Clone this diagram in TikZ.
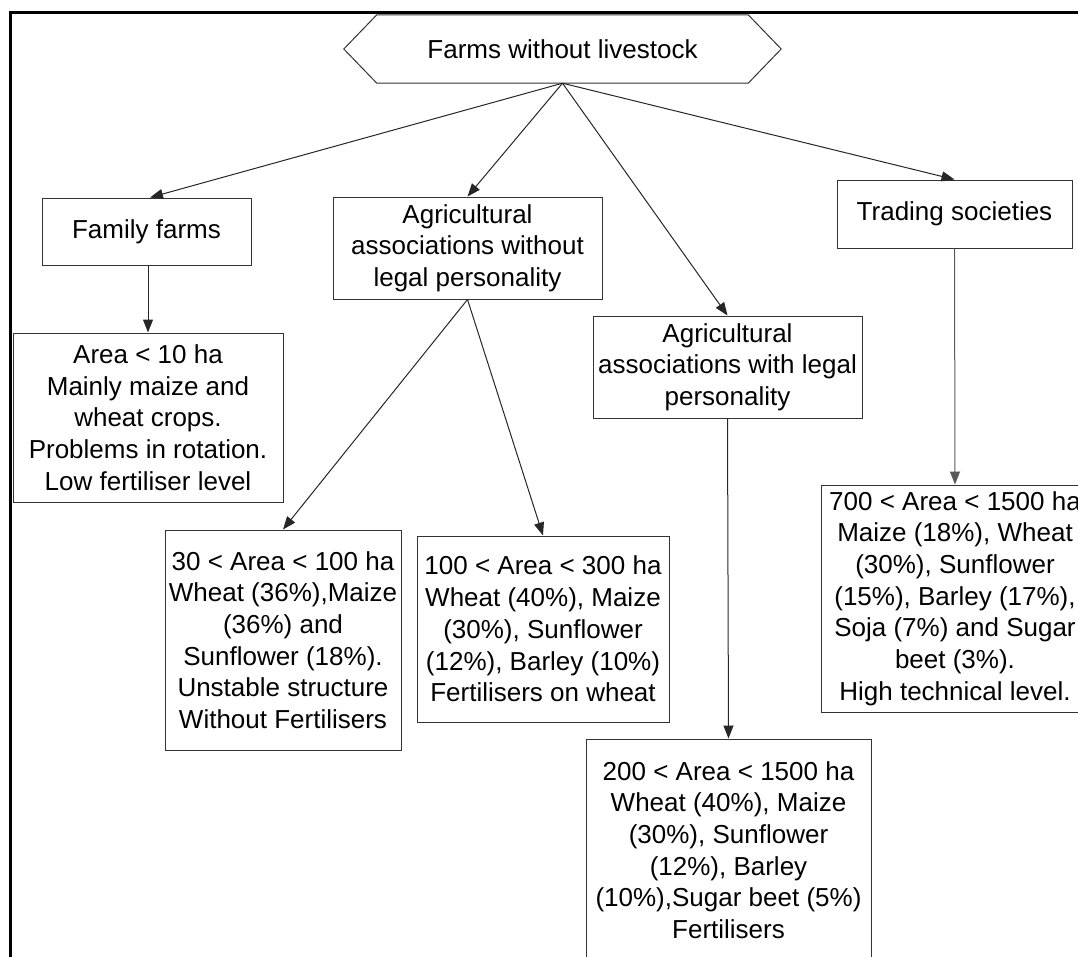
\documentclass[tikz,border=0pt]{standalone}
\usepackage{fontspec}
\setmainfont{Liberation Sans}
\usetikzlibrary{arrows.meta}
\begin{document}
\begin{tikzpicture}[x=1pt,y=-1pt,
  txt/.style={inner sep=0pt, align=center, font=\fontsize{26}{31.7}\selectfont, anchor=center},
  box/.style={txt, draw=black!80, line width=1pt},
  conn/.style={draw=black!85, line width=1pt, -{Triangle[length=13pt,width=10pt]}},
]
\useasboundingbox (0,0) rectangle (1078,956);
\clip (0,0) rectangle (1078,956);
% outer frame
\draw[line width=3pt] (10,1000) -- (10,12) -- (1100,12);
% root hexagon
\node[txt, minimum width=437pt, minimum height=68pt] (root) at (562.5,49) {Farms without livestock};
\draw[black!80, line width=1pt] (root.west) -- ([xshift=33pt]root.north west) -- ([xshift=-33pt]root.north east) -- (root.east) -- ([xshift=-33pt]root.south east) -- ([xshift=33pt]root.south west) -- cycle;
% level 1
\node[box, minimum width=209pt, minimum height=67pt] (ff) at (146.5,231.5) {Family farms};
\node[box, minimum width=269pt, minimum height=102pt] (anl) at (467.5,248) {Agricultural\\associations without\\legal personality};
\node[box, minimum width=269pt, minimum height=102pt] (awl) at (727.5,367) {Agricultural\\associations with legal\\personality};
\node[box, minimum width=235pt, minimum height=68pt] (ts) at (954.5,214) {Trading societies};
% level 2
\node[box, minimum width=270pt, minimum height=169pt] (a10) at (148,417.5) {Area < 10 ha\\Mainly maize and\\wheat crops.\\Problems in rotation.\\Low fertiliser level};
\node[box, minimum width=236pt, minimum height=220pt] (b30) at (283,640) {30 < Area < 100 ha\\Wheat (36\%),Maize\\(36\%) and\\Sunflower (18\%).\\Unstable structure\\Without Fertilisers};
\node[box, minimum width=252pt, minimum height=186pt] (b100) at (543,629) {100 < Area < 300 ha\\Wheat (40\%), Maize\\(30\%), Sunflower\\(12\%), Barley (10\%)\\Fertilisers on wheat};
\node[box, minimum width=285pt, minimum height=222pt] (b200) at (728.5,850) {200 < Area < 1500 ha\\Wheat (40\%), Maize\\(30\%), Sunflower\\(12\%), Barley\\(10\%),Sugar beet (5\%)\\Fertilisers};
\node[box, minimum width=268pt, minimum height=227pt] (b700) at (955,598.5) {700 < Area < 1500 ha\\Maize (18\%), Wheat\\(30\%), Sunflower\\(15\%), Barley (17\%),\\Soja (7\%) and Sugar\\beet (3\%).\\High technical level.};
% connectors
\draw[conn] (root.south) -- ([xshift=3.5pt]ff.north);
\draw[conn] (root.south) -- (anl.north);
\draw[conn] (root.south) -- (awl.north);
\draw[conn] (root.south) -- (ts.north);
\draw[conn] (ff.south -| a10.north) -- (a10.north);
\draw[conn] (anl.south) -- (b30.north);
\draw[conn] (anl.south) -- (b100.north);
\draw[conn] (awl.south) -- (b200.north);
\draw[conn, draw=black!65] (ts.south) -- (b700.north);
\end{tikzpicture}
\end{document}
